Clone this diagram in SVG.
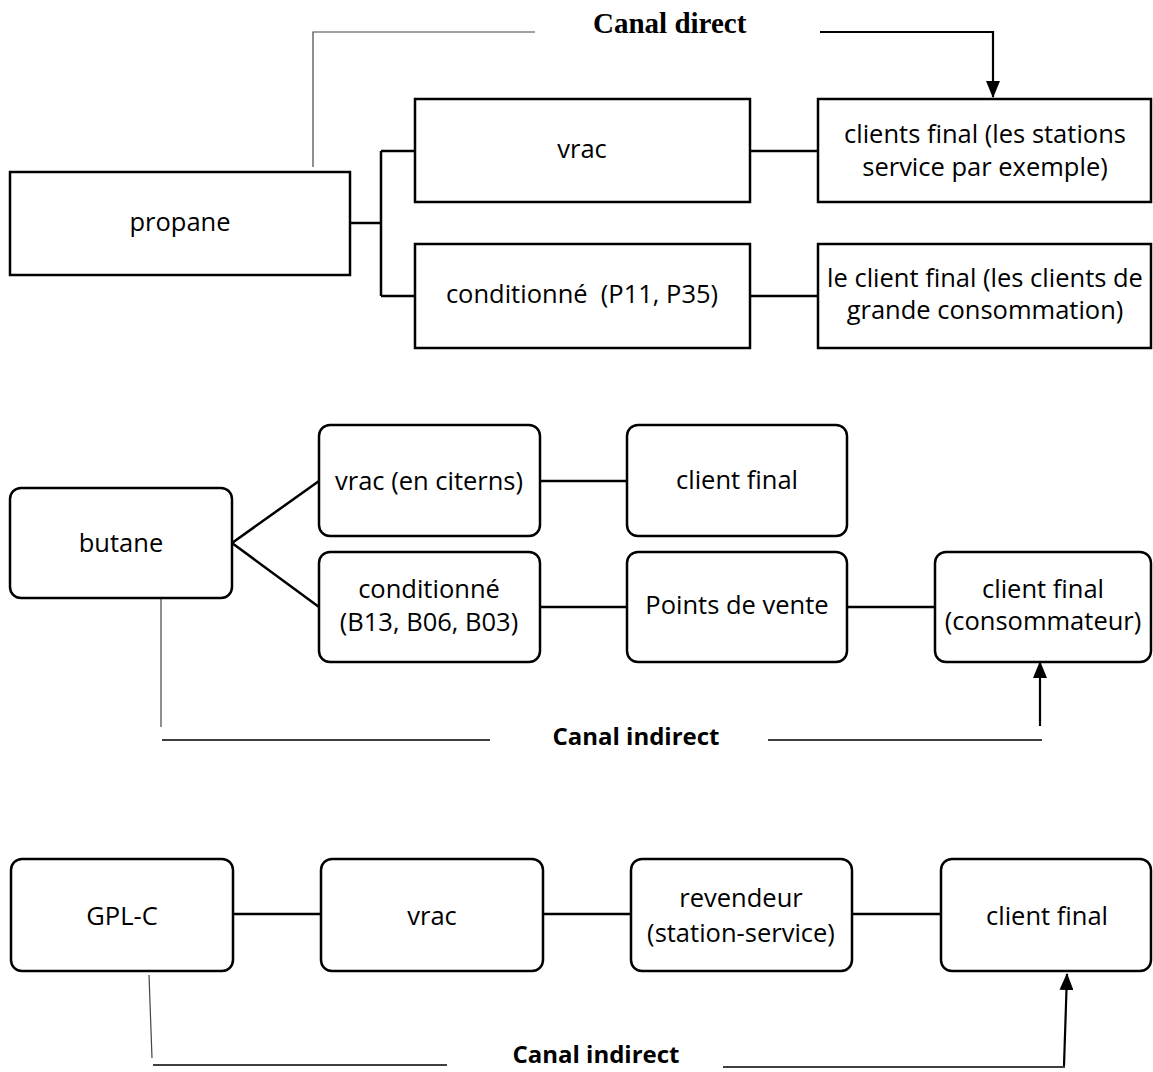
<svg xmlns="http://www.w3.org/2000/svg" width="1153" height="1072" viewBox="0 0 1153 1072">
  <style>
    .box { fill: #fff; stroke: #000; stroke-width: 2.5; }
    .lbl { font-family: "Open Sans", "Liberation Sans", sans-serif; font-size: 25.5px; fill: #000; text-anchor: middle; }
    .link { fill: none; stroke: #000; stroke-width: 2.5; }
    .thin { fill: none; stroke: #444; stroke-width: 1.2; }
    .rule { fill: none; stroke: #000; stroke-width: 1.4; }
    .arrow { fill: none; stroke: #000; stroke-width: 2.2; }
    .canal-direct { font-family: "Liberation Serif", "Times New Roman", serif; font-weight: bold; font-size: 29px; fill: #000; }
    .canal-indirect { font-family: "Open Sans", "Liberation Sans", sans-serif; font-weight: bold; font-size: 24px; fill: #000; text-anchor: middle; }
  </style>
  <defs>
    <marker id="head" markerUnits="userSpaceOnUse" markerWidth="17" markerHeight="14" viewBox="0 0 17 14" refX="16" refY="7" orient="auto">
      <path d="M0,0 L17,7 L0,14 z" fill="#000"/>
    </marker>
  </defs>
  <rect width="1153" height="1072" fill="#fff"/>

  <!-- connectors -->
  <g id="connectors">
    <!-- propane branches -->
    <path class="link" d="M350,223 H381 M381,151 V296 M381,151 H415 M381,296 H415"/>
    <path class="link" d="M750,151 H818 M750,296 H818"/>
    <!-- butane branches -->
    <path class="link" d="M232,543 L319,481 M232,543 L319,607"/>
    <path class="link" d="M540,481 H627 M540,607 H627 M847,607 H935"/>
    <!-- GPL-C chain -->
    <path class="link" d="M233,914 H321 M543,914 H631 M852,914 H941"/>

    <!-- direct channel -->
    <path class="thin" d="M313,167 V32 H535"/>
    <path class="arrow" d="M820,32 H993 V97" marker-end="url(#head)"/>
    <!-- indirect channel (butane) -->
    <path class="thin" d="M161,598 V727"/>
    <path class="rule" d="M162,740 H490 M768,740 H1042"/>
    <path class="arrow" d="M1040,726 V662" marker-end="url(#head)"/>
    <!-- indirect channel (GPL-C) -->
    <path class="thin" d="M149,975 L152,1058"/>
    <path class="rule" d="M153,1065 H447 M723,1067 H1065"/>
    <path class="arrow" d="M1064,1066 L1067,974" marker-end="url(#head)"/>
  </g>

  <text class="canal-direct" x="593" y="33">Canal direct</text>
  <text class="canal-indirect" x="636" y="745">Canal indirect</text>
  <text class="canal-indirect" x="596" y="1063">Canal indirect</text>

  <!-- propane -->
  <g id="propane">
    <rect class="box" x="10" y="172" width="340" height="103"/>
    <text class="lbl" x="180" y="231">propane</text>
  </g>
  <g id="propane-vrac">
    <rect class="box" x="415" y="99" width="335" height="103"/>
    <text class="lbl" x="582" y="158">vrac</text>
  </g>
  <g id="propane-conditionne">
    <rect class="box" x="415" y="244" width="335" height="104"/>
    <text class="lbl" x="582" y="303" xml:space="preserve">conditionné  (P11, P35)</text>
  </g>
  <g id="propane-client-stations">
    <rect class="box" x="818" y="99" width="333" height="103"/>
    <text class="lbl" x="985" y="143">clients final (les stations</text>
    <text class="lbl" x="985" y="176">service par exemple)</text>
  </g>
  <g id="propane-client-grande">
    <rect class="box" x="818" y="244" width="333" height="104"/>
    <text class="lbl" x="985" y="287">le client final (les clients de</text>
    <text class="lbl" x="985" y="319">grande consommation)</text>
  </g>

  <!-- butane -->
  <g id="butane">
    <rect class="box" x="10" y="488" width="222" height="110" rx="11"/>
    <text class="lbl" x="121" y="552">butane</text>
  </g>
  <g id="butane-vrac">
    <rect class="box" x="319" y="425" width="221" height="111" rx="11"/>
    <text class="lbl" x="429" y="490">vrac (en citerns)</text>
  </g>
  <g id="butane-conditionne">
    <rect class="box" x="319" y="552" width="221" height="110" rx="11"/>
    <text class="lbl" x="429" y="598">conditionné</text>
    <text class="lbl" x="429" y="631">(B13, B06, B03)</text>
  </g>
  <g id="butane-client">
    <rect class="box" x="627" y="425" width="220" height="111" rx="11"/>
    <text class="lbl" x="737" y="489">client final</text>
  </g>
  <g id="butane-points-vente">
    <rect class="box" x="627" y="552" width="220" height="110" rx="11"/>
    <text class="lbl" x="737" y="614">Points de vente</text>
  </g>
  <g id="butane-consommateur">
    <rect class="box" x="935" y="552" width="216" height="110" rx="11"/>
    <text class="lbl" x="1043" y="598">client final</text>
    <text class="lbl" x="1043" y="630">(consommateur)</text>
  </g>

  <!-- GPL-C -->
  <g id="gplc">
    <rect class="box" x="11" y="859" width="222" height="112" rx="11"/>
    <text class="lbl" x="122" y="925">GPL-C</text>
  </g>
  <g id="gplc-vrac">
    <rect class="box" x="321" y="859" width="222" height="112" rx="11"/>
    <text class="lbl" x="432" y="925">vrac</text>
  </g>
  <g id="gplc-revendeur">
    <rect class="box" x="631" y="859" width="221" height="112" rx="11"/>
    <text class="lbl" x="741" y="907">revendeur</text>
    <text class="lbl" x="741" y="942">(station-service)</text>
  </g>
  <g id="gplc-client">
    <rect class="box" x="941" y="859" width="210" height="112" rx="11"/>
    <text class="lbl" x="1047" y="925">client final</text>
  </g>
</svg>
